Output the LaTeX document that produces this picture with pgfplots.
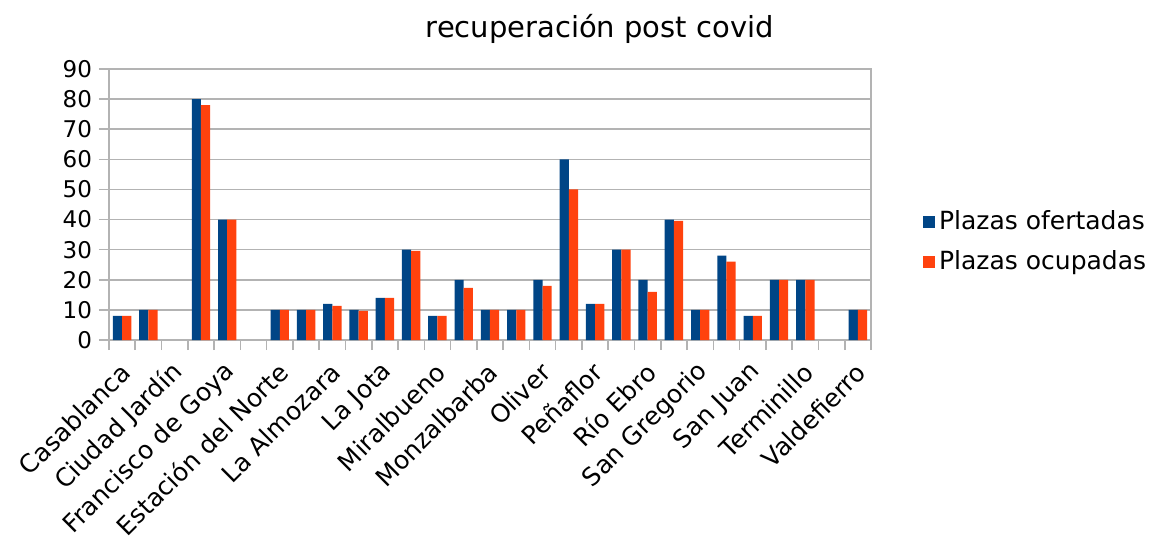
\documentclass[border=0pt]{standalone}
\usepackage{fontspec}
\setmainfont{DejaVu Sans}
\usepackage{pgfplots}
\usepackage{pgfplotstable}
\pgfplotsset{compat=1.18}
\definecolor{lblue}{HTML}{004586}
\definecolor{lorange}{HTML}{FF420E}
\definecolor{lgrid}{HTML}{B3B3B3}
\pgfplotstableread{
x a b
0 8 8
1 10 10
3 80 78
4 40 40
6 10 10
7 10 10
8 12 11.3
9 10 9.7
10 14 14
11 30 29.6
12 8 8
13 20 17.3
14 10 10
15 10 10
16 20 18
17 60 50
18 12 12
19 30 30
20 20 16
21 40 39.6
22 10 10
23 28 26
24 8 8
25 20 20
26 20 20
28 10 10
}\data
\begin{document}
\begin{tikzpicture}
\path[use as bounding box] (-54.5pt,-104pt) rectangle (527.5pt,170pt);
\begin{axis}[
  scale only axis, width=381pt, height=135.5pt,
  at={(0,0)}, anchor=south west,
  xmin=-0.5, xmax=28.5, ymin=0, ymax=90,
  ybar=0pt, bar width=4.6pt,
  axis line style={lgrid, line width=0.8pt},
  ytick={0,10,...,90},
  ymajorgrids, grid style={lgrid, line width=0.8pt},
  xtick={-0.5,0.5,...,28.5}, xticklabels={},
  extra x ticks={0,2,...,28},
  extra x tick labels={Casablanca,Ciudad Jardín,Francisco de Goya,Estación del Norte,La Almozara,La Jota,Miralbueno,Monzalbarba,Oliver,Peñaflor,Río Ebro,San Gregorio,San Juan,Terminillo,Valdefierro},
  extra x tick style={major tick length=0pt, grid=none,
    tick label style={rotate=45, anchor=east, font=\fontsize{12.5}{14}\selectfont, yshift=-11pt, xshift=-5.2pt}},
  tick align=outside, tick pos=left,
  major tick length=5pt,
  tick style={lgrid, line width=0.8pt},
  yticklabel style={font=\fontsize{11.5}{13}\selectfont},
  /pgf/number format/assume math mode=true,
  title={recuperación post covid},
  title style={at={(0.644,1.104)}, anchor=center, font=\fontsize{14.5}{17}\selectfont},
  legend style={draw=none, at={(1.06,0.362)}, anchor=west, font=\fontsize{12.5}{15}\selectfont, row sep=5pt},
  legend cell align=left,
  legend image code/.code={\fill[#1, draw=none] (-1.5pt,-3pt) rectangle (4.5pt,3pt);},
]
\addplot[fill=lblue, draw=none] table[x=x, y=a] {\data};
\addplot[fill=lorange, draw=none] table[x=x, y=b] {\data};
\legend{Plazas ofertadas, Plazas ocupadas}
\end{axis}
\end{tikzpicture}
\end{document}
